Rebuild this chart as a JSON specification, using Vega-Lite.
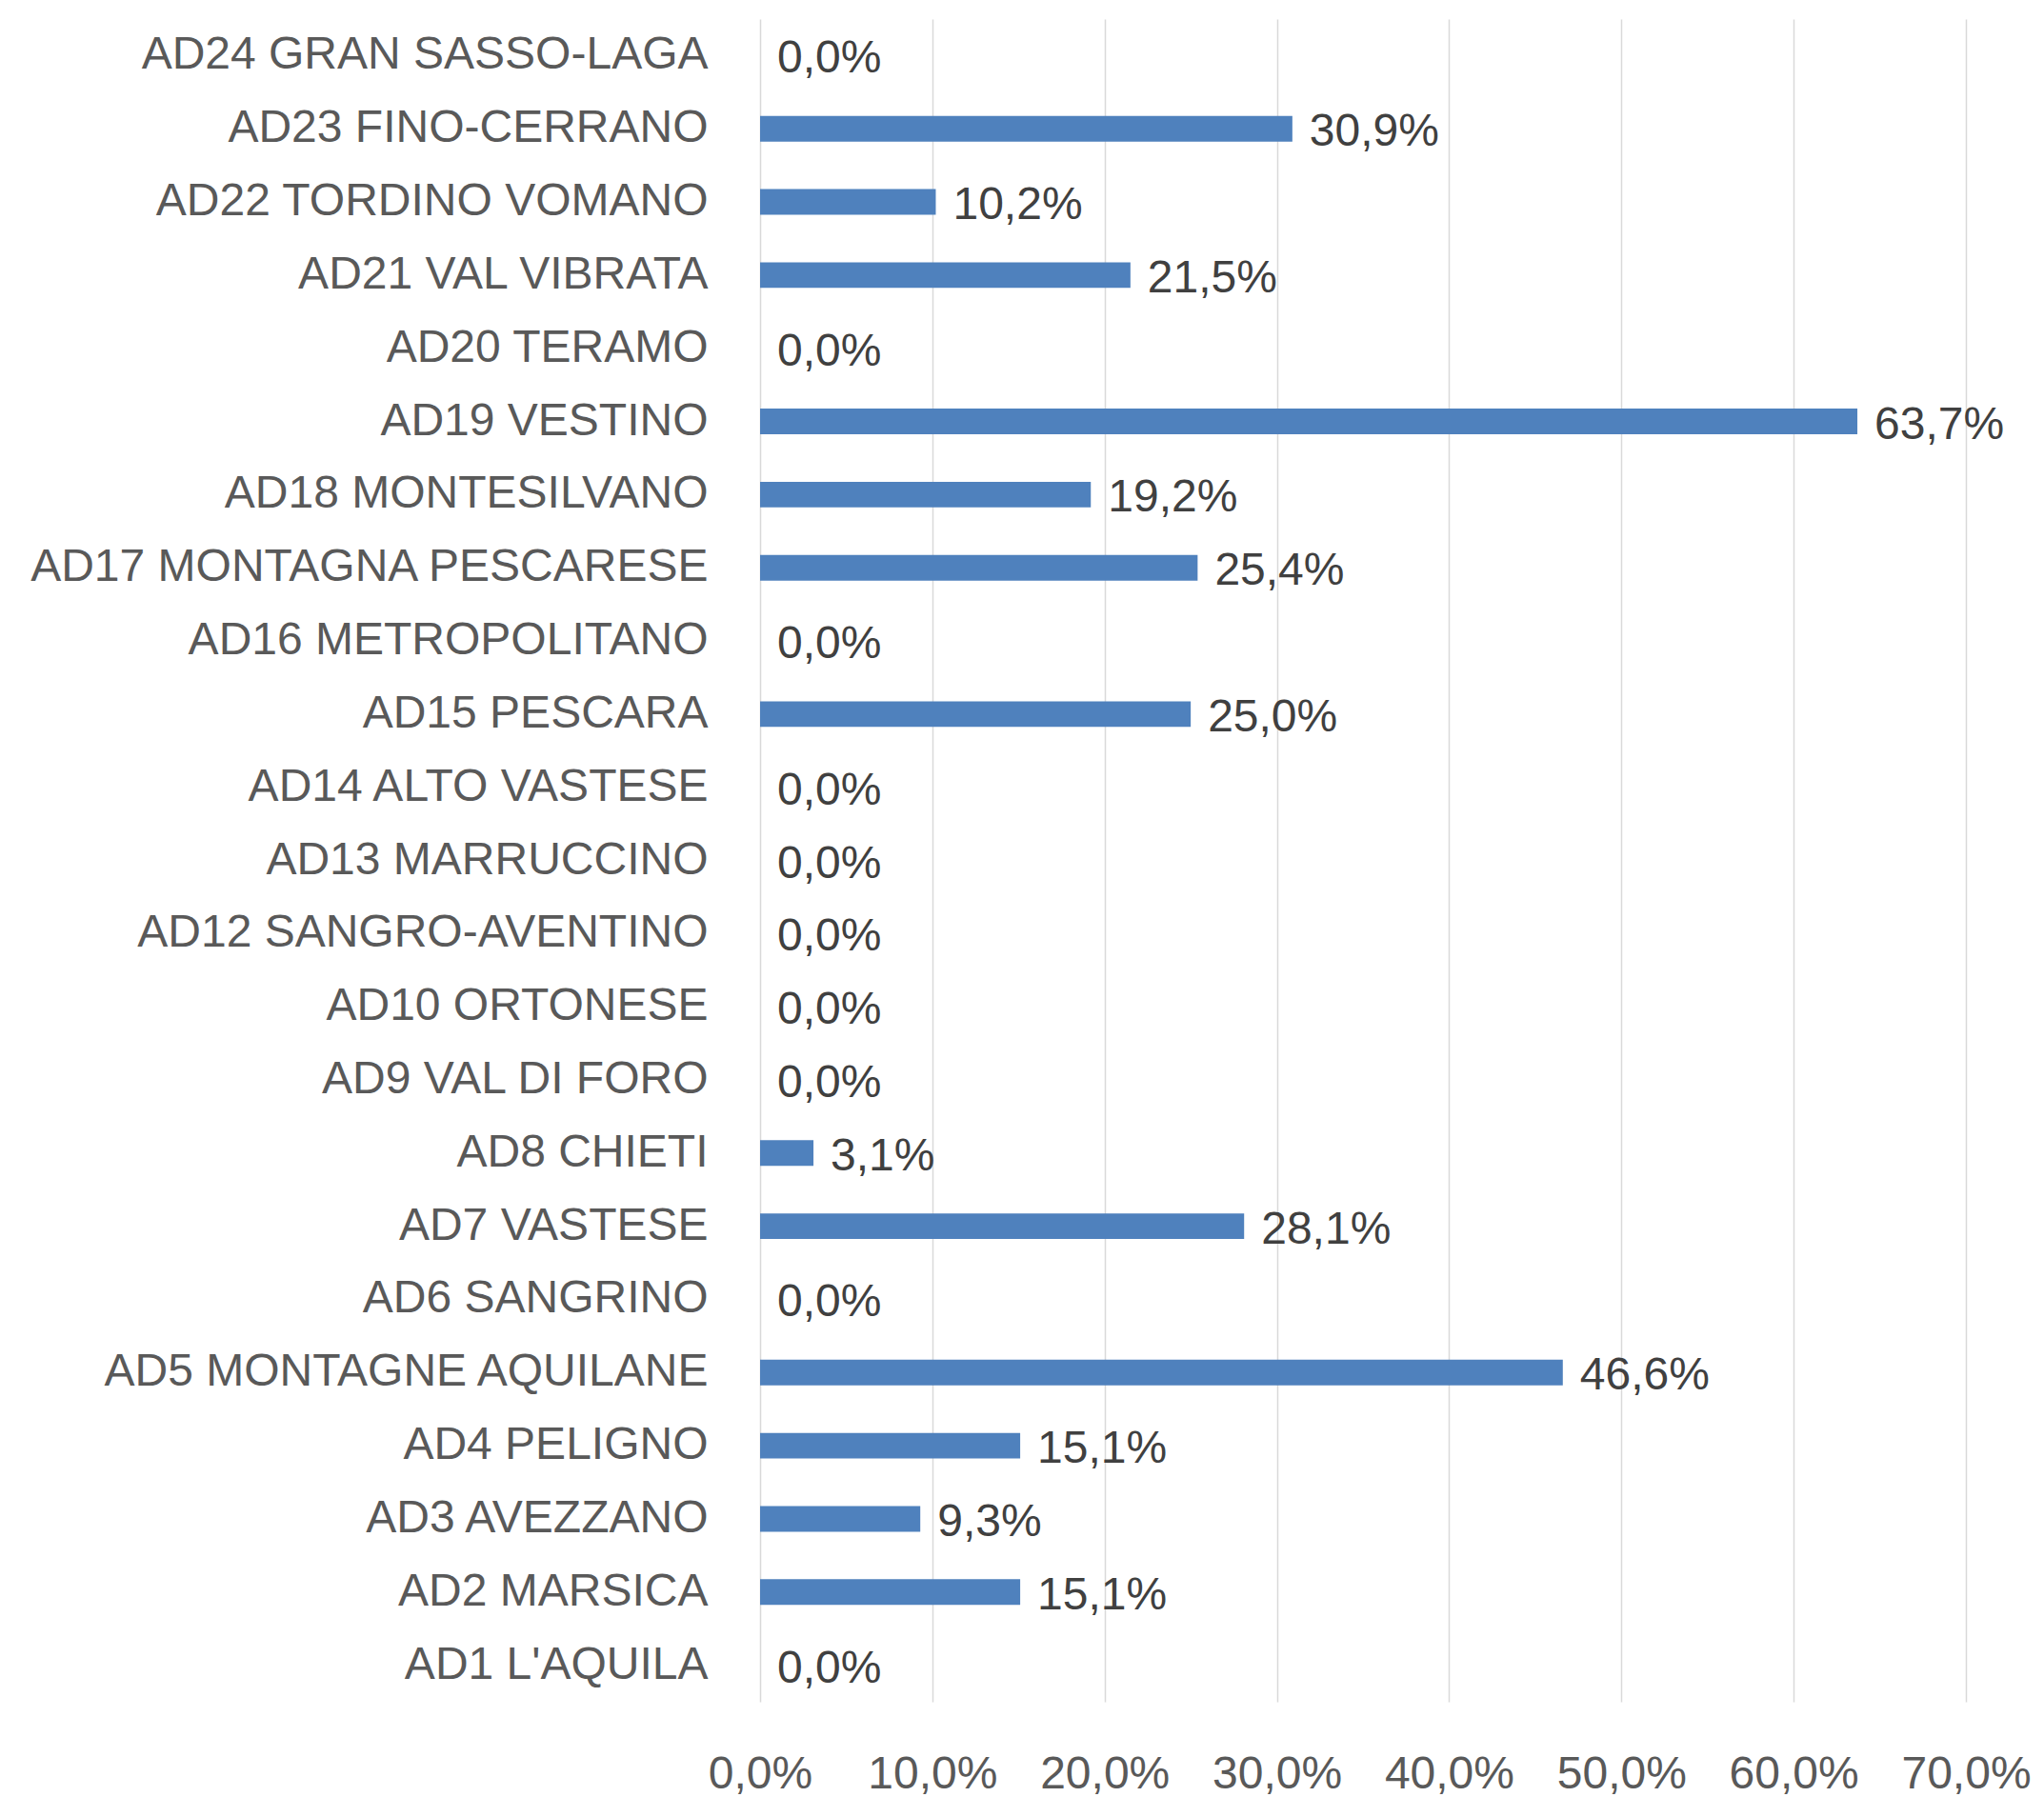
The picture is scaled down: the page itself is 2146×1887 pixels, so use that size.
{
  "$schema": "https://vega.github.io/schema/vega-lite/v6.json",
  "autosize": "none",
  "width": 1266,
  "height": 1767,
  "padding": {"left": 798, "top": 20, "right": 82, "bottom": 100},
  "background": "white",
  "data": {
    "values": [
      {"area": "AD24 GRAN SASSO-LAGA", "value": 0.0},
      {"area": "AD23 FINO-CERRANO", "value": 0.309},
      {"area": "AD22 TORDINO VOMANO", "value": 0.102},
      {"area": "AD21 VAL VIBRATA", "value": 0.215},
      {"area": "AD20 TERAMO", "value": 0.0},
      {"area": "AD19 VESTINO", "value": 0.637},
      {"area": "AD18 MONTESILVANO", "value": 0.192},
      {"area": "AD17 MONTAGNA PESCARESE", "value": 0.254},
      {"area": "AD16 METROPOLITANO", "value": 0.0},
      {"area": "AD15 PESCARA", "value": 0.25},
      {"area": "AD14 ALTO VASTESE", "value": 0.0},
      {"area": "AD13 MARRUCCINO", "value": 0.0},
      {"area": "AD12 SANGRO-AVENTINO", "value": 0.0},
      {"area": "AD10 ORTONESE", "value": 0.0},
      {"area": "AD9 VAL DI FORO", "value": 0.0},
      {"area": "AD8 CHIETI", "value": 0.031},
      {"area": "AD7 VASTESE", "value": 0.281},
      {"area": "AD6 SANGRINO", "value": 0.0},
      {"area": "AD5 MONTAGNE AQUILANE", "value": 0.466},
      {"area": "AD4 PELIGNO", "value": 0.151},
      {"area": "AD3 AVEZZANO", "value": 0.093},
      {"area": "AD2 MARSICA", "value": 0.151},
      {"area": "AD1 L'AQUILA", "value": 0.0}
    ]
  },
  "encoding": {
    "y": {
      "field": "area",
      "type": "nominal",
      "sort": null,
      "scale": {"paddingInner": 0.65, "paddingOuter": 0.325},
      "axis": {
        "title": null,
        "ticks": false,
        "domain": false,
        "labelPadding": 55,
        "labelFontSize": 48,
        "labelFont": "Liberation Sans",
        "labelColor": "#595959",
        "labelLimit": 1000
      }
    },
    "x": {
      "field": "value",
      "type": "quantitative",
      "scale": {"domain": [0, 0.7], "nice": false},
      "axis": {
        "title": null,
        "values": [0, 0.1, 0.2, 0.3, 0.4, 0.5, 0.6, 0.7],
        "format": ".1%",
        "ticks": false,
        "domain": false,
        "grid": true,
        "gridColor": "#d9d9d9",
        "gridWidth": 1.5,
        "labelPadding": 52,
        "labelFontSize": 48,
        "labelFont": "Liberation Sans",
        "labelColor": "#595959",
        "labelOverlap": false,
        "labelFlush": false,
        "labelBaseline": "top"
      }
    }
  },
  "layer": [
    {"mark": {"type": "bar", "color": "#4f81bd"}},
    {
      "mark": {
        "type": "text",
        "align": "left",
        "baseline": "middle",
        "dx": 18,
        "dy": 4,
        "font": "Liberation Sans",
        "fontSize": 48,
        "color": "#404040"
      },
      "encoding": {"text": {"field": "value", "type": "quantitative", "format": ".1%"}}
    }
  ],
  "config": {
    "view": {"stroke": null},
    "locale": {
      "number": {"decimal": ",", "thousands": ".", "grouping": [3], "currency": ["€", ""]}
    }
  }
}
